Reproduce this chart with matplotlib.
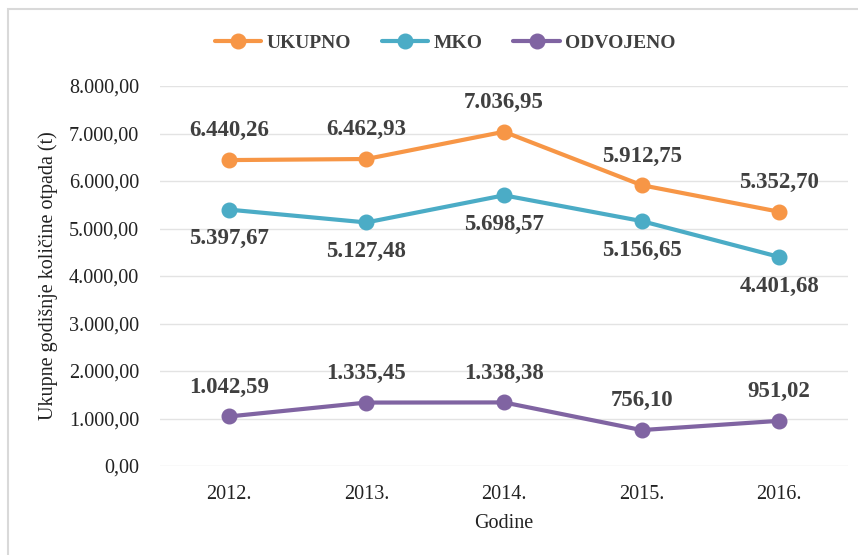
import matplotlib.pyplot as plt
from matplotlib.patches import Rectangle

godine = ['2012.', '2013.', '2014.', '2015.', '2016.']
ukupno = [6440.26, 6462.93, 7036.95, 5912.75, 5352.70]
mko = [5397.67, 5127.48, 5698.57, 5156.65, 4401.68]
odvojeno = [1042.59, 1335.45, 1338.38, 756.10, 951.02]
y_ticks = [0, 1000, 2000, 3000, 4000, 5000, 6000, 7000, 8000]


def hr_format(v):
    # 6440.26 -> 6.440,26
    s = f"{v:,.2f}"
    return s.replace(',', 'X').replace('.', ',').replace('X', '.')


plt.rcParams['font.family'] = ['Liberation Serif', 'DejaVu Serif']

fig = plt.figure(figsize=(8.58, 5.55), dpi=100)
# chart frame (only left and top edge fall inside the picture)
fig.patches.append(Rectangle((8 / 858, -0.2), 1.2, 1.2 - 9 / 555, transform=fig.transFigure,
                             fill=False, edgecolor='#d9d9d9', linewidth=1.5))

ax = fig.add_axes([160 / 858, 1 - 466 / 555, (848 - 160) / 858, (466 - 86) / 555])

x = list(range(len(godine)))
series = [
    ('UKUPNO', ukupno, '#f79646', 1),
    ('MKO', mko, '#4bacc6', -1),
    ('ODVOJENO', odvojeno, '#8064a2', 1),
]
for name, vals, color, side in series:
    ax.plot(x, vals, color=color, linewidth=3, marker='o', markersize=10.5, label=name,
            solid_capstyle='round')
    for xi, v in zip(x, vals):
        ax.annotate(hr_format(v), (xi, v), xytext=(0, 21 * side), textcoords='offset points',
                    ha='center', va='center', fontsize=16.5, fontweight='bold', color='#404040')

ax.set_xlim(-0.5, len(godine) - 0.5)
ax.set_ylim(0, 8000)
ax.set_xticks(x)
ax.set_xticklabels(godine)
ax.set_yticks(y_ticks)
ax.set_yticklabels([hr_format(t) for t in y_ticks])
ax.tick_params(length=0, labelsize=14.5, labelcolor='#222222')
ax.tick_params(axis='x', pad=14)
ax.tick_params(axis='y', pad=15)
ax.grid(axis='y', color='#e3e3e3', linewidth=1)
ax.set_axisbelow(True)
for s in ax.spines.values():
    s.set_visible(False)

ax.set_xlabel('Godine', fontsize=14.5, color='#222222', labelpad=7)
ax.set_ylabel('Ukupne godišnje količine otpada (t)', fontsize=14.5, color='#222222', labelpad=8)

leg = fig.legend(loc='center', bbox_to_anchor=(445 / 858, 1 - 43 / 555), ncol=3, frameon=False,
                 prop={'size': 14, 'weight': 'bold'}, handlelength=2.4, columnspacing=1.6,
                 handletextpad=0.25)
for t in leg.get_texts():
    t.set_color('#404040')

fig.savefig('out.png', dpi=100)
